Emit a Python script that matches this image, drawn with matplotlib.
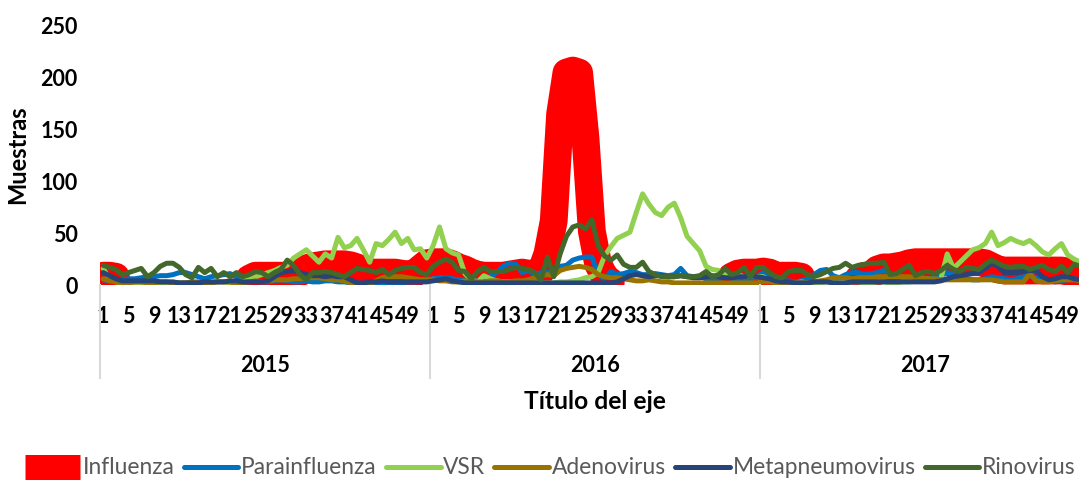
import numpy as np
import matplotlib
matplotlib.use("Agg")
import matplotlib.pyplot as plt
import matplotlib.transforms as mtransforms
from matplotlib.lines import Line2D

plt.rcParams["font.family"] = ["Lato", "DejaVu Sans"]

nan = np.nan
years = ["2015", "2016", "2017"]
week_labels = [1, 5, 9, 13, 17, 21, 25, 29, 33, 37, 41, 45, 49]
n_weeks = 52

# empty weeks (no influenza data) are left as gaps, like the original sheet
influenza = ([9, 9, 8, nan, nan, nan, nan, nan, nan, nan, nan, nan, nan, nan, nan, nan,
              nan, nan, nan, nan, nan, nan, nan,
              6, 9, 9, 9, 9, 9, 9, 9, 12, 16, 18, 19, 20, 20, 20, 20, 19, 17,
              14, 12, 12, 12, 12, 12, 11, 10, 11, 16, 21]
             + [22, 22, 22, 20, 17, 15, 12, 10, 9, 9, 9, 9, 10, 11, 12, 11, 11, 13,
                30, 62, 165, 205, 207, 205, 142, 52, 20, 8,
                3, nan, nan, nan, nan, nan, nan, nan, nan, nan, nan, nan,
                nan, nan, nan, nan, nan, nan, nan, 8, 11, 12, 12, 12]
             + [13, 12, 9, 9, 9, 9, 8, nan, nan, nan, nan, nan, nan,
                nan, nan, 6, 9, 9, 15, 17, 17, 18, 19, 21, 22,
                22, 22, 22, 22, 22, 22, 22, 22, 22, 22, 21,
                18, 15, 14, 14, 14, 14, 14, 14, 14, 14, 14, 14, 13, 12, 11, 10])

parainfluenza = ([5, 4, 4, 5, 6, 6, 7, 8, 8, 9, 9, 10, 12,
                  12, 10, 8, 6, 8, 9, 10, 11, 8, 6, 5, 4, 3,
                  3, 4, 5, 4, 3, 3, 4, 3, 3, 4, 4, 3, 3,
                  2, 2, 1, 1, 0, 0, 0, 1, 2, 3, 3, 4, 5]
                 + [6, 7, 7, 6, 5, 5, 4, 4, 5, 8, 12, 18, 21,
                    20, 12, 14, 10, 12, 12, 13, 18, 19, 24, 26, 27, 27,
                    10, 6, 13, 10, 11, 13, 12, 10, 10, 11, 10, 9, 10,
                    16, 9, 8, 8, 6, 5, 3, 0, 2, 4, 5, 6, 8]
                 + [12, 8, 5, 4, 4, 3, 4, 6, 10, 14, 15, 9, 7,
                    10, 12, 12, 10, 11, 12, 14, 10, 8, 7, 6, 5, 5,
                    6, 7, 9, 12, 10, 8, 6, 5, 5, 6, 8, 7, 6,
                    5, 6, 8, 9, 7, 5, 4, 3, 4, 5, 6, 5, 5])

vsr = ([16, 6, 3, 2, 2, 1, 1, 1, 1, 1, 2, 2, 2,
        2, 1, 1, 2, 2, 3, 3, 2, 3, 4, 5, 8, 10,
        12, 14, 17, 19, 26, 30, 34, 28, 22, 30, 26, 46, 36,
        38, 45, 34, 22, 40, 38, 44, 51, 40, 45, 34, 35, 26]
       + [38, 56, 35, 31, 29, 11, 5, 3, 9, 6, 4, 3, 3,
          3, 3, 2, 2, 2, 2, 2, 3, 3, 4, 5, 7, 8,
          12, 28, 37, 45, 48, 51, 70, 88, 78, 70, 67, 75, 79,
          65, 47, 40, 33, 18, 15, 14, 10, 8, 10, 8, 9, 8]
       + [8, 5, 3, 2, 2, 2, 3, 2, 2, 2, 3, 3, 2,
          2, 3, 3, 2, 2, 3, 3, 2, 2, 3, 3, 4, 4,
          4, 4, 6, 30, 16, 22, 28, 34, 36, 40, 51, 38, 41,
          45, 42, 40, 43, 38, 32, 29, 35, 40, 29, 25, 22, 20])

adenovirus = ([6, 4, 3, 2, 2, 3, 3, 2, 2, 3, 3, 2, 2,
               2, 3, 3, 2, 2, 3, 3, 3, 1, 2, 3, 4, 3,
               4, 5, 5, 5, 6, 6, 7, 7, 7, 6, 5, 5, 4,
               2, 0, 0, 1, 4, 7, 8, 8, 8, 7, 6, 5, 5]
              + [5, 4, 4, 3, 3, 4, 4, 3, 3, 4, 4, 3, 3,
                 4, 4, 5, 7, 9, 10, 9, 14, 16, 17, 18, 17, 15,
                 10, 8, 7, 7, 6, 5, 4, 4, 5, 4, 3, 3, 2,
                 2, 2, 2, 2, 2, 2, 2, 2, 2, 2, 2, 2, 2]
              + [3, 3, 2, 2, 2, 2, 2, 2, 3, 4, 5, 7, 7,
                 7, 6, 7, 7, 7, 8, 8, 8, 8, 8, 8, 7, 7,
                 6, 6, 5, 5, 5, 5, 5, 5, 5, 5, 5, 4, 3,
                 3, 3, 3, 11, 4, 3, 3, 4, 5, 5, 5, 4, 4])

metapneumovirus = ([12, 9, 6, 4, 4, 4, 4, 4, 4, 3, 3, 3, 2,
                    2, 2, 2, 3, 3, 3, 3, 4, 4, 3, 3, 3, 3,
                    4, 8, 12, 13, 14, 12, 10, 9, 9, 8, 9, 8, 8,
                    5, 2, 2, 3, 3, 4, 3, 3, 3, 3, 3, 3, 3]
                   + [4, 5, 6, 4, 3, 2, 2, 2, 2, 2, 2, 2, 2,
                      2, 2, 2, 2, 2, 2, 2, 2, 2, 2, 2, 2, 2,
                      2, 2, 2, 3, 6, 9, 10, 9, 8, 9, 9, 8, 8,
                      9, 8, 7, 7, 8, 9, 8, 7, 7, 8, 8, 9, 8]
                   + [7, 6, 4, 3, 3, 2, 2, 2, 3, 3, 3, 2, 2,
                      2, 3, 3, 3, 3, 3, 3, 3, 3, 3, 3, 3, 3,
                      3, 3, 4, 6, 8, 9, 10, 11, 12, 16, 21, 18, 12,
                      12, 12, 13, 14, 14, 8, 5, 6, 8, 8, 6, 5, 5])

rinovirus = ([19, 17, 15, 10, 12, 14, 16, 8, 12, 18, 21, 21, 17,
              10, 7, 17, 12, 16, 8, 12, 8, 12, 8, 10, 13, 12,
              8, 12, 15, 24, 19, 10, 5, 12, 12, 13, 12, 10, 8,
              12, 16, 15, 14, 12, 15, 10, 14, 16, 17, 17, 12, 10]
             + [18, 22, 25, 22, 14, 13, 6, 13, 17, 13, 13, 13, 15,
                17, 16, 15, 12, 5, 27, 8, 30, 47, 56, 58, 54, 63,
                38, 28, 24, 29, 20, 17, 17, 22, 13, 10, 8, 8, 8,
                9, 8, 8, 9, 13, 8, 10, 16, 10, 12, 17, 8, 17]
             + [17, 12, 8, 7, 13, 14, 14, 10, 8, 10, 13, 16, 17,
                21, 17, 19, 20, 21, 21, 22, 10, 11, 15, 19, 9, 12,
                13, 11, 14, 19, 15, 13, 17, 16, 15, 20, 24, 21, 18,
                17, 18, 18, 15, 17, 19, 15, 13, 18, 12, 20, 18, 17])

series = [
    ("Influenza", influenza, "#ff0000", 20),
    ("Parainfluenza", parainfluenza, "#0070c0", 3.6),
    ("VSR", vsr, "#92d050", 3.6),
    ("Adenovirus", adenovirus, "#997300", 3.6),
    ("Metapneumovirus", metapneumovirus, "#264478", 3.6),
    ("Rinovirus", rinovirus, "#43682b", 3.6),
]

fig = plt.figure(figsize=(10.79, 4.8), dpi=100)
ax = fig.add_axes([100 / 1079, 195 / 480, 990 / 1079, 259 / 480])

x = np.arange(len(influenza))
handles = []
for name, vals, col, lw in series:
    ax.plot(x, vals, color=col, lw=lw, solid_capstyle="round",
            solid_joinstyle="round")
    if lw > 10:
        handles.append(Line2D([], [], color=col, lw=18, solid_capstyle="butt", label=name))
    else:
        handles.append(Line2D([], [], color=col, lw=lw, solid_capstyle="round", label=name))

ax.set_xlim(-0.5, len(x) - 0.5)
ax.set_ylim(0, 250)
ax.set_yticks(range(0, 251, 50))
for s in ax.spines.values():
    s.set_visible(False)

ticks = [k * n_weeks + w - 1 for k in range(len(years)) for w in week_labels]
ax.set_xticks(ticks)
ax.set_xticklabels([str(w) for _ in years for w in week_labels])
ax.tick_params(axis="x", length=0, pad=15, labelsize=15.5)
ax.tick_params(axis="y", length=0, pad=16, labelsize=15.5)
for lab in ax.get_xticklabels() + ax.get_yticklabels():
    lab.set_fontweight("bold")

# year level of the category axis
trans = mtransforms.blended_transform_factory(ax.transData, ax.transAxes)
for k in range(len(years) + 1):
    ax.plot([k * n_weeks - 0.5] * 2, [0, -0.36], transform=trans,
            color="#d9d9d9", lw=1.5, clip_on=False)
for k, yr in enumerate(years):
    ax.text(k * n_weeks + (n_weeks - 1) / 2, -0.31, yr, transform=trans,
            ha="center", va="center", fontsize=15.5, fontweight="bold")

ax.text(0.5, -0.448, "Título del eje", transform=ax.transAxes,
        ha="center", va="center", fontsize=17.7, fontweight="bold")
fig.text(18 / 1079, 1 - 155 / 480, "Muestras", rotation=90,
         ha="center", va="center", fontsize=17, fontweight="bold")

leg = fig.legend(handles=handles, loc="center", bbox_to_anchor=(0.5102, 0.025),
                 ncol=6, frameon=False, fontsize=16.4, handlelength=2.4,
                 handletextpad=0.12, columnspacing=0.4)
for t in leg.get_texts():
    t.set_color("#595959")

fig.savefig("out.png", dpi=100)
